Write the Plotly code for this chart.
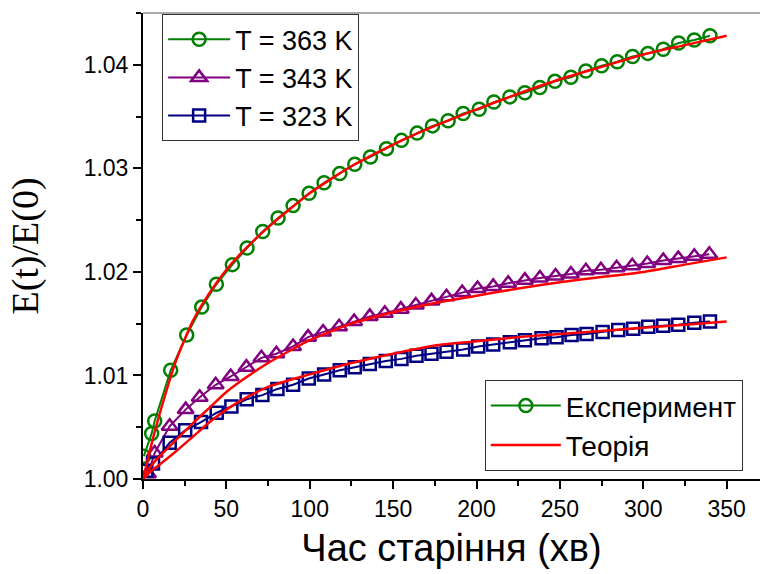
import plotly.graph_objects as go

# Experimental data (time in minutes, E(t)/E(0))
t363 = [0.5, 5.2, 7.0, 16.6, 26.2, 35.2, 44.0, 53.6, 62.4, 71.8, 81.0, 90.0, 99.6, 108.6, 118.0, 127.0,
        136.4, 146.0, 155.0, 164.4, 173.6, 183.0, 192.0, 201.6, 210.4, 220.0, 229.0, 238.0, 247.0,
        256.6, 265.6, 275.0, 284.4, 293.6, 302.8, 312.0, 321.2, 330.6, 340.0]
e363 = [1.0022, 1.0044, 1.0056, 1.0105, 1.0139, 1.0166, 1.0188, 1.0207, 1.0223, 1.0239, 1.0252, 1.0264,
        1.0276, 1.0286, 1.0295, 1.0304, 1.0311, 1.0319, 1.0327, 1.0334, 1.0341, 1.0346, 1.0353, 1.0357,
        1.0364, 1.0369, 1.0373, 1.0378, 1.0384, 1.0388, 1.0394, 1.0399, 1.0403, 1.0408, 1.0411, 1.0415,
        1.0421, 1.0424, 1.0428]

t343 = [3.0, 7.0, 16.0, 25.6, 34.0, 43.6, 52.6, 62.0, 71.0, 80.0, 90.0, 99.0, 108.0, 117.6, 126.6, 136.0,
        145.0, 154.6, 163.6, 173.0, 182.0, 191.4, 200.6, 210.0, 219.0, 229.0, 238.0, 247.4, 256.6, 265.6,
        274.6, 284.0, 293.4, 302.4, 312.0, 321.0, 330.6, 339.6]
e343 = [1.0005, 1.0025, 1.0051, 1.0067, 1.0079, 1.0091, 1.0099, 1.0108, 1.0117, 1.0121, 1.0128, 1.0137,
        1.0142, 1.0147, 1.0152, 1.0157, 1.0160, 1.0164, 1.0168, 1.0172, 1.0176, 1.0180, 1.0184, 1.0186,
        1.0189, 1.0192, 1.0194, 1.0196, 1.0198, 1.0201, 1.0202, 1.0204, 1.0206, 1.0208, 1.0211, 1.0213,
        1.0215, 1.0217]

t323 = [2.0, 6.0, 16.0, 25.3, 34.8, 44.2, 53.0, 62.2, 71.6, 80.6, 90.0, 99.4, 108.6, 118.0, 127.0, 136.0,
        145.6, 155.0, 164.0, 173.0, 182.0, 192.0, 201.0, 210.0, 220.0, 229.0, 239.0, 248.0, 257.0, 266.0,
        275.6, 285.0, 294.0, 303.0, 312.0, 321.0, 330.6, 340.0]
e323 = [1.0008, 1.0015, 1.0035, 1.0047, 1.0055, 1.0064, 1.0070, 1.0077, 1.0081, 1.0087, 1.0091, 1.0097,
        1.0101, 1.0105, 1.0108, 1.0111, 1.0114, 1.0116, 1.0119, 1.0121, 1.0123, 1.0125, 1.0128, 1.0130,
        1.0132, 1.0134, 1.0136, 1.0137, 1.0139, 1.0140, 1.0142, 1.0144, 1.0145, 1.0147, 1.0148, 1.0149,
        1.0151, 1.0152]

# Theory curves
t_th = [0, 2, 5, 10, 20, 30, 40, 50, 60, 75, 100, 125, 150, 175, 200, 225, 250, 275, 300, 325, 350]
th363 = [1.0, 1.0013, 1.0033, 1.0063, 1.0115, 1.0153, 1.0180, 1.0202, 1.0220, 1.0243, 1.0276, 1.0302,
         1.0323, 1.0341, 1.0357, 1.0372, 1.0386, 1.0398, 1.0410, 1.0419, 1.0428]
th343 = [1.0, 1.0006, 1.0013, 1.0022, 1.0038, 1.0054, 1.0069, 1.0084, 1.0096, 1.0112, 1.0134, 1.0150,
         1.0161, 1.0170, 1.0177, 1.0184, 1.0190, 1.0195, 1.0200, 1.0207, 1.0214]
th323 = [1.0, 1.0003, 1.0008, 1.0014, 1.0027, 1.0041, 1.0055, 1.0067, 1.0077, 1.0089, 1.0101, 1.0112,
         1.0121, 1.0129, 1.0133, 1.0137, 1.0140, 1.0143, 1.0146, 1.0149, 1.0152]

x_ticks = [0, 50, 100, 150, 200, 250, 300, 350]
y_ticks = [1.00, 1.01, 1.02, 1.03, 1.04]

GREEN = "#008000"
PURPLE = "#800080"
NAVY = "#000080"
RED = "#FF0000"
FONT = "Liberation Sans, Arial, sans-serif"

fig = go.Figure()

series = [
    ("T = 363 K", t363, e363, GREEN, "circle-open", 13),
    ("T = 343 K", t343, e343, PURPLE, "triangle-up-open", 14),
    ("T = 323 K", t323, e323, NAVY, "square-open", 12),
]
for name, xs, ys, col, sym, sz in series:
    fig.add_trace(go.Scatter(
        x=xs, y=ys, name=name, mode="lines+markers",
        line=dict(color=col, width=2),
        marker=dict(symbol=sym, size=sz, color=col, line=dict(width=2.5, color=col)),
        legend="legend",
    ))

for i, th in enumerate([th363, th343, th323]):
    fig.add_trace(go.Scatter(
        x=t_th, y=th, mode="lines", name="Теорія",
        line=dict(color=RED, width=2.5, shape="spline", smoothing=0.6),
        showlegend=(i == 0), legend="legend2", legendrank=2,
    ))

# legend-only entry for experiment
fig.add_trace(go.Scatter(
    x=[None], y=[None], mode="lines+markers", name="Експеримент",
    line=dict(color=GREEN, width=2),
    marker=dict(symbol="circle-open", size=13, color=GREEN, line=dict(width=2.5, color=GREEN)),
    legend="legend2", legendrank=1,
))

axis_common = dict(
    showgrid=False, zeroline=False, showline=True, linecolor="black", linewidth=2,
    ticks="outside", ticklen=8, tickwidth=2, tickcolor="black",
    tickfont=dict(family=FONT, size=23, color="black"),
)

fig.update_layout(
    width=760, height=574,
    margin=dict(l=143, r=0, t=13, b=95),
    paper_bgcolor="white", plot_bgcolor="white",
    xaxis=dict(range=[0, 370], tickvals=x_ticks, ticktext=[str(v) for v in x_ticks],
               minor=dict(ticks="outside", ticklen=5, tickwidth=2, tickcolor="black", dtick=25, tick0=0),
               title=dict(text="Час старіння (хв)", font=dict(family=FONT, size=38, color="black"), standoff=14),
               **axis_common),
    yaxis=dict(range=[1.0, 1.045], tickvals=y_ticks, ticktext=[f"{v:.2f}" for v in y_ticks],
               minor=dict(ticks="outside", ticklen=5, tickwidth=2, tickcolor="black", dtick=0.005, tick0=1.0),
               title=dict(text="E(t)/E(0)", font=dict(family="Liberation Serif, Times New Roman, serif", size=38, color="black"), standoff=33),
               **axis_common),
    legend=dict(x=0.031, y=0.861, xanchor="left", yanchor="middle",
                bgcolor="white", bordercolor="#333333", borderwidth=1,
                font=dict(family=FONT, size=27, color="black"), itemwidth=62,
                tracegroupgap=0),
    legend2=dict(x=0.554, y=0.115, xanchor="left", yanchor="middle",
                 bgcolor="white", bordercolor="#333333", borderwidth=1,
                 font=dict(family=FONT, size=28, color="black"), itemwidth=70,
                 traceorder="normal"),
    shapes=[dict(type="line", xref="paper", yref="paper", x0=0, x1=1, y0=1, y1=1,
                 line=dict(color="#aaaaaa", width=2))],
    showlegend=True,
)

fig.write_html("out.html")
